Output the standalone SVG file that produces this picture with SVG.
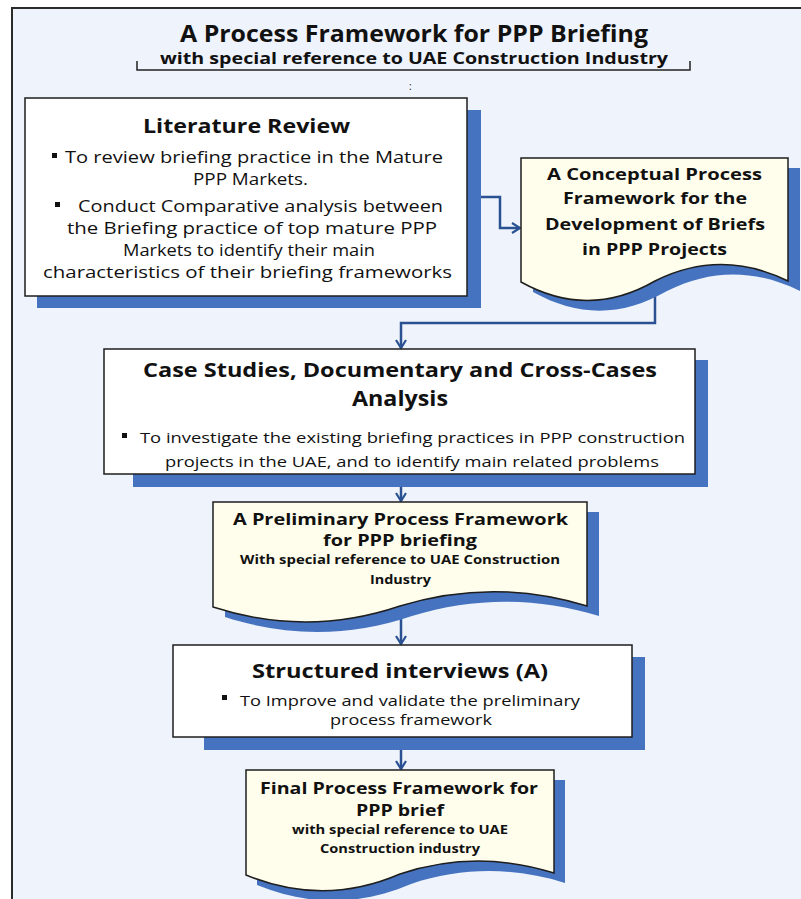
<svg xmlns="http://www.w3.org/2000/svg" width="801" height="899" viewBox="0 0 801 899">
  <defs>
    <style>
      .frame { fill: #EFF3FB; stroke: #2b2b2b; stroke-width: 2; }
      .box { fill: #FFFFFF; stroke: #1e1e1e; stroke-width: 1.5; }
      .doc { fill: #FFFEEC; stroke: #1e1e1e; stroke-width: 1.5; }
      .shadow { fill: #4673C0; }
      .link { fill: none; stroke: #2A5192; stroke-width: 2.5; }
      .t { font-family: "Open Sans", "Liberation Sans", sans-serif; fill: #111111; }
      .b { font-weight: bold; }
      .bullet { fill: #111111; }
    </style>
    <marker id="chev" viewBox="0 0 12 12" refX="10" refY="6" markerWidth="12" markerHeight="12" markerUnits="userSpaceOnUse" orient="auto">
      <path d="M2,1 L10,6 L2,11" fill="none" stroke="#2A5192" stroke-width="2.2"/>
    </marker>
  </defs>

  <rect x="0" y="0" width="801" height="899" fill="#FFFFFF"/>
  <rect class="frame" x="12" y="8" width="800" height="900"/>

  <!-- heading -->
  <g id="heading">
    <text class="t b" x="180" y="42" font-size="23" textLength="468" lengthAdjust="spacingAndGlyphs">A Process Framework for PPP Briefing</text>
    <text class="t b" x="160" y="64" font-size="16" textLength="508" lengthAdjust="spacingAndGlyphs">with special reference to UAE Construction Industry</text>
    <path d="M137,61 V70 H690 V61" fill="none" stroke="#222" stroke-width="1.5"/>
    <text class="t" x="409" y="90" font-size="10" fill="#444">:</text>
  </g>

  <!-- connectors -->
  <g id="connectors">
    <path class="link" d="M467,197 H500 V228 H520" marker-end="url(#chev)"/>
    <path class="link" d="M655,281 V323 H401 V348" marker-end="url(#chev)"/>
    <path class="link" d="M401,474 V501" marker-end="url(#chev)"/>
    <path class="link" d="M401,606 V644" marker-end="url(#chev)"/>
    <path class="link" d="M401,737 V769" marker-end="url(#chev)"/>
  </g>

  <!-- Literature Review -->
  <g id="literature-review">
    <rect class="shadow" x="37" y="110" width="444" height="198"/>
    <rect class="box" x="25" y="98" width="442" height="198"/>
    <text class="t b" x="143" y="133" font-size="19" textLength="207" lengthAdjust="spacingAndGlyphs">Literature Review</text>
    <rect class="bullet" x="52" y="153" width="5" height="5"/>
    <text class="t" x="65" y="163" font-size="16" textLength="378" lengthAdjust="spacingAndGlyphs">To review briefing practice in the Mature</text>
    <text class="t" x="193" y="185" font-size="16" textLength="115" lengthAdjust="spacingAndGlyphs">PPP Markets.</text>
    <rect class="bullet" x="55" y="202" width="5" height="5"/>
    <text class="t" x="78" y="212" font-size="16" textLength="365" lengthAdjust="spacingAndGlyphs">Conduct Comparative analysis between</text>
    <text class="t" x="67" y="234" font-size="16" textLength="370" lengthAdjust="spacingAndGlyphs">the Briefing practice  of top mature PPP</text>
    <text class="t" x="123" y="256" font-size="16" textLength="252" lengthAdjust="spacingAndGlyphs">Markets to identify their main</text>
    <text class="t" x="43" y="278" font-size="16" textLength="409" lengthAdjust="spacingAndGlyphs">characteristics of their briefing frameworks</text>
  </g>

  <!-- Conceptual framework document -->
  <g id="conceptual-framework">
    <path class="shadow" transform="translate(12,10)" d="M521,158 H788 V281 C743,259 699,259 655,281 C610,307 566,307 521,282 Z"/>
    <path class="doc" d="M521,158 H788 V281 C743,259 699,259 655,281 C610,307 566,307 521,282 Z"/>
    <text class="t b" x="547" y="180" font-size="16.5" textLength="215" lengthAdjust="spacingAndGlyphs">A  Conceptual Process</text>
    <text class="t b" x="563" y="204" font-size="16.5" textLength="184" lengthAdjust="spacingAndGlyphs">Framework for the</text>
    <text class="t b" x="545" y="230" font-size="16.5" textLength="220" lengthAdjust="spacingAndGlyphs">Development of Briefs</text>
    <text class="t b" x="582" y="255" font-size="16.5" textLength="145" lengthAdjust="spacingAndGlyphs">in PPP Projects</text>
  </g>

  <!-- Case studies -->
  <g id="case-studies">
    <rect class="shadow" x="133" y="360" width="575" height="127"/>
    <rect class="box" x="104" y="349" width="591" height="125"/>
    <text class="t b" x="143" y="377" font-size="20" textLength="514" lengthAdjust="spacingAndGlyphs">Case Studies, Documentary and Cross-Cases</text>
    <text class="t b" x="352" y="406" font-size="20.5" textLength="96" lengthAdjust="spacingAndGlyphs">Analysis</text>
    <rect class="bullet" x="122" y="433" width="5" height="5"/>
    <text class="t" x="140" y="443" font-size="15" textLength="545" lengthAdjust="spacingAndGlyphs">To investigate the existing briefing practices in PPP construction</text>
    <text class="t" x="165" y="467" font-size="15" textLength="494" lengthAdjust="spacingAndGlyphs">projects in the UAE, and to identify main related problems</text>
  </g>

  <!-- Preliminary framework document -->
  <g id="preliminary-framework">
    <path class="shadow" transform="translate(12,10)" d="M213,502 H587 V606 C525,587 462,587 400,606 C338,627 275,627 213,607 Z"/>
    <path class="doc" d="M213,502 H587 V606 C525,587 462,587 400,606 C338,627 275,627 213,607 Z"/>
    <text class="t b" x="233" y="525" font-size="16.5" textLength="335" lengthAdjust="spacingAndGlyphs">A Preliminary Process Framework</text>
    <text class="t b" x="323" y="546" font-size="16.5" textLength="154" lengthAdjust="spacingAndGlyphs">for PPP briefing</text>
    <text class="t b" x="240" y="564" font-size="12.5" textLength="320" lengthAdjust="spacingAndGlyphs">With special reference to UAE Construction</text>
    <text class="t b" x="370" y="584" font-size="12.5" textLength="61" lengthAdjust="spacingAndGlyphs">Industry</text>
  </g>

  <!-- Structured interviews -->
  <g id="structured-interviews">
    <rect class="shadow" x="204" y="657" width="441" height="93"/>
    <rect class="box" x="173" y="645" width="459" height="92"/>
    <text class="t b" x="252" y="678" font-size="19" textLength="296" lengthAdjust="spacingAndGlyphs">Structured interviews (A)</text>
    <rect class="bullet" x="222" y="695" width="5" height="5"/>
    <text class="t" x="240" y="706" font-size="15" textLength="340" lengthAdjust="spacingAndGlyphs">To Improve and validate the preliminary</text>
    <text class="t" x="330" y="725" font-size="15" textLength="162" lengthAdjust="spacingAndGlyphs">process framework</text>
  </g>

  <!-- Final framework document -->
  <g id="final-framework">
    <path class="shadow" transform="translate(11,10)" d="M246,770 H554 V873 C503,857 451,857 400,874 C349,896 297,896 246,875 Z"/>
    <path class="doc" d="M246,770 H554 V873 C503,857 451,857 400,874 C349,896 297,896 246,875 Z"/>
    <text class="t b" x="260" y="794" font-size="16" textLength="278" lengthAdjust="spacingAndGlyphs">Final Process Framework for</text>
    <text class="t b" x="356" y="816" font-size="15.5" textLength="88" lengthAdjust="spacingAndGlyphs">PPP brief</text>
    <text class="t b" x="292" y="834" font-size="12.5" textLength="216" lengthAdjust="spacingAndGlyphs">with special reference to UAE</text>
    <text class="t b" x="320" y="853" font-size="12.5" textLength="160" lengthAdjust="spacingAndGlyphs">Construction industry</text>
  </g>
</svg>
